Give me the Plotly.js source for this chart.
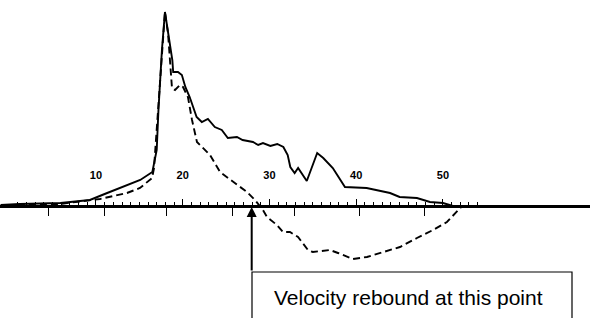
<!DOCTYPE html>
<html>
<head>
<meta charset="utf-8">
<script src="https://cdn.plot.ly/plotly-3.0.1.min.js"></script>
<style>html,body{margin:0;padding:0;background:#fff;}#chart{width:590px;height:318px;}</style>
</head>
<body>
<div id="chart"></div>
<script>
// Solid curve (x in axis units, y in arbitrary amplitude units; axis at y = 0)
const solidX = [-1, 1.2, 5.9, 9.3, 11.0, 12.8, 15.1, 16.5, 16.7, 17.0, 17.2, 17.6, 17.95, 18.3, 18.8, 18.9, 19.45, 19.9, 20.3, 20.8, 21.6, 22.2, 22.9, 23.7, 24.5, 25.2, 26.25, 26.9, 28.1, 28.7, 29.25, 30.1, 30.9, 31.6, 32.1, 32.4, 32.9, 33.3, 34.3, 35.5, 36.2, 37.3, 38.4, 38.7, 41.2, 43.9, 45.0, 47.0, 48.5, 50.0, 51.15, 52];
const solidY = [1, 2, 3, 6, 12, 18, 26, 34, 43, 56, 96, 156, 194, 173, 146, 134, 134, 131, 119, 109, 89, 84, 87, 79, 76, 68, 69, 66, 64, 61, 63, 60, 62, 59, 51, 39, 33, 38, 25, 53, 48, 38, 23, 19, 18, 13, 9, 8, 4, 3, 0, -1];
// Dashed curve
const dashX = [1, 5.85, 10.46, 13.57, 15.07, 16.46, 16.69, 17.15, 17.61, 17.95, 18.3, 18.76, 19.11, 19.68, 20.03, 20.6, 21.07, 21.64, 22.22, 23.14, 24.3, 25.8, 27.4, 28.33, 29.25, 29.71, 30.86, 31.56, 32.36, 33.29, 34.44, 35.0, 36.97, 37.9, 39.62, 41.24, 43.08, 45.04, 47.0, 48.85, 50.46, 51.6, 52.2];
const dashY = [1, 2, 7, 13, 18, 28, 38, 96, 156, 194, 173, 118, 116, 121, 119, 109, 86, 64, 59, 51, 34, 24, 14, 6, -4, -11, -19, -26, -26, -31, -44, -46, -44, -47, -53, -51, -46, -41, -32, -24, -16, -6, 0];
// Axis tick labels and tick positions
const labelVals = [10, 20, 30, 40, 50];
const labelText = ['10', '20', '30', '40', '50'];
const smallTicks = Array.from({length: 54}, (_, i) => i + 1);
const longTicks = [4.5, 11.0, 18.1, 25.7, 32.9, 40.4, 47.9];
const arrowX = 27.95;
const annotationText = 'Velocity rebound at this point';

const xr = [-1.066, 66.95];
const yr = [-112, 206];
const axisPos = (318 - 206) / 318;

const traces = [
  {x: solidX, y: solidY, type: 'scatter', mode: 'lines', line: {color: '#000', width: 1.9, shape: 'linear'}, hoverinfo: 'skip'},
  {x: dashX, y: dashY, type: 'scatter', mode: 'lines', line: {color: '#000', width: 1.9, dash: '7px,4px'}, hoverinfo: 'skip'}
];

const layout = {
  width: 590, height: 318,
  margin: {l: 0, r: 0, t: 0, b: 0, pad: 0},
  paper_bgcolor: '#fff', plot_bgcolor: '#fff',
  showlegend: false,
  xaxis: {
    range: xr, anchor: 'free', position: axisPos, side: 'bottom',
    showline: true, linecolor: '#000', linewidth: 2.5,
    showgrid: false, zeroline: false,
    tickmode: 'array', tickvals: longTicks, ticks: 'outside', ticklen: 8, tickwidth: 1.3, tickcolor: '#000',
    showticklabels: false
  },
  xaxis2: {
    range: xr, overlaying: 'x', anchor: 'free', position: axisPos, side: 'top',
    showline: false, showgrid: false, zeroline: false,
    tickmode: 'array', tickvals: labelVals, ticks: 'outside', ticklen: 7, tickwidth: 1, tickcolor: '#000',
    showticklabels: false,
    minor: {tickmode: 'array', tickvals: smallTicks, ticks: 'outside', ticklen: 4, tickwidth: 1, tickcolor: '#000', showgrid: false}
  },
  xaxis3: {
    range: xr, overlaying: 'x', anchor: 'free', position: axisPos, side: 'top',
    showline: false, showgrid: false, zeroline: false,
    tickmode: 'array', tickvals: labelVals, ticktext: labelText,
    ticks: 'outside', ticklen: 23, tickcolor: 'rgba(0,0,0,0)',
    tickfont: {family: 'Liberation Sans, Arial, sans-serif', size: 11, color: '#000', weight: 'bold'}
  },
  yaxis: {range: yr, visible: false, showgrid: false, zeroline: false},
  shapes: [
    {type: 'rect', xref: 'paper', yref: 'paper', x0: 252 / 590, x1: 572 / 590, y0: -0.02, y1: (318 - 272) / 318,
     line: {color: '#000', width: 1.2}, fillcolor: 'rgba(0,0,0,0)'}
  ],
  annotations: [
    {x: arrowX, y: -1, xref: 'x', yref: 'y', ax: arrowX, ay: -66, axref: 'x', ayref: 'y',
     text: '', showarrow: true, arrowhead: 2, arrowsize: 1, arrowwidth: 2, arrowcolor: '#000', standoff: 0, startstandoff: 0},
    {x: 409 / 590, y: (318 - 297) / 318, xref: 'paper', yref: 'paper', text: annotationText, showarrow: false,
     xanchor: 'center', yanchor: 'middle',
     font: {family: 'Liberation Sans, Arial, sans-serif', size: 21, color: '#000'}}
  ]
};
// Dummy traces so the overlay axes are drawn
traces.push({x: [null], y: [null], xaxis: 'x2', type: 'scatter', hoverinfo: 'skip'});
traces.push({x: [null], y: [null], xaxis: 'x3', type: 'scatter', hoverinfo: 'skip'});

Plotly.newPlot('chart', traces, layout, {staticPlot: true, displayModeBar: false});
</script>
</body>
</html>
